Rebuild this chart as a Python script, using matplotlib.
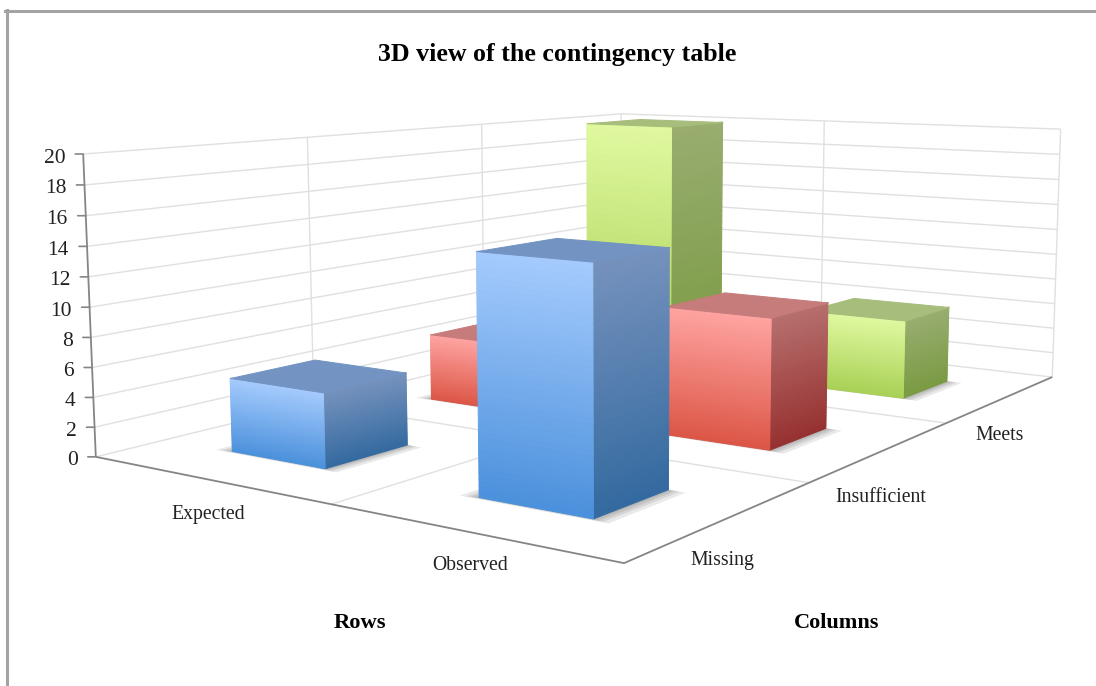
"""3D view of the contingency table."""

import matplotlib
matplotlib.use("Agg")
import matplotlib.pyplot as plt
import numpy as np
from matplotlib.lines import Line2D
from matplotlib.colors import to_rgb
from mpl_toolkits.mplot3d import proj3d
from mpl_toolkits.mplot3d.art3d import Poly3DCollection

rows = ["Expected", "Observed"]
columns = ["Missing", "Insufficient", "Meets"]
expected = [5, 5, 20]
observed = [15, 9, 6]
z_ticks = [0, 2, 4, 6, 8, 10, 12, 14, 16, 18, 20]

# colours: front top, front bottom, side top, side bottom, top face
palette = {
    "Missing": ("#a5cbfd", "#4a90dc", "#7592bd", "#33699f", "#7393c2"),
    "Insufficient": ("#ffa4a1", "#dc5545", "#b66f6d", "#963030", "#c57c7b"),
    "Meets": ("#e0f8a0", "#a8d155", "#98ad6f", "#7a9a42", "#a6bd7b"),
}

W, H = 1096, 686
SIDE = 1000
GRID = "#e0e0e0"
AXIS = "#858585"
BAR_X = (0.30, 0.70)
BAR_Y = (0.30, 0.69)
STRIPS = 40

plt.rcParams["font.family"] = ["Liberation Serif", "DejaVu Serif"]

fig = plt.figure(figsize=(W / 100, H / 100), dpi=100, facecolor="white")
ax = fig.add_axes([((W - SIDE) / 2 + 60.63) / W, ((H - SIDE) / 2 + 51.43) / H, SIDE / W, SIDE / H],
                  projection="3d")
ax.set_xlim(0, 2, view_margin=0)
ax.set_ylim(0, 3, view_margin=0)
ax.set_zlim(0, 20, view_margin=0)
ax.view_init(elev=8.0662, azim=-55.7359)
ax.set_box_aspect((1, 1.4595, 0.4743), zoom=1.0323)
ax.set_proj_type("persp", focal_length=0.3363)
ax.set_axis_off()
ax.computed_zorder = False
ax.patch.set_visible(False)


def line3d(xs, ys, zs, color=GRID, lw=1.0):
    ax.plot(xs, ys, zs, color=color, lw=lw, clip_on=False, zorder=1, solid_capstyle="butt")


def mix(a, b, t):
    a, b = np.array(to_rgb(a)), np.array(to_rgb(b))
    return tuple(a + (b - a) * t)


def add_polys(polys, colors, zorder, alpha=None, edge=True):
    coll = Poly3DCollection(polys, facecolors=colors, edgecolors=colors if edge else "none",
                            linewidths=0.7 if edge else 0, alpha=alpha)
    coll.set_clip_on(False)
    coll.set_zorder(zorder)
    ax.add_collection3d(coll, autolim=False)


def draw_bar(ix, iy, height, colors, zorder):
    front_top, front_bot, side_top, side_bot, top = colors
    x0, x1 = ix + BAR_X[0], ix + BAR_X[1]
    y0, y1 = iy + BAR_Y[0], iy + BAR_Y[1]
    # soft shadow on the floor
    for grow in (0.06, 0.04, 0.025, 0.012):
        add_polys([[(x0 - grow, y0 - grow * 0.25, 0), (x1 + grow, y0 - grow * 0.25, 0),
                    (x1 + grow, y1, 0), (x0 - grow, y1, 0)]], ["#555555"], zorder, alpha=0.13, edge=False)
    levels = np.linspace(0, height, STRIPS + 1)
    polys, cols = [], []
    for k in range(STRIPS):
        t = 1 - (k + 0.5) / STRIPS
        z0, z1 = levels[k], levels[k + 1]
        polys.append([(x0, y0, z0), (x1, y0, z0), (x1, y0, z1), (x0, y0, z1)])
        cols.append(mix(front_top, front_bot, t))
        polys.append([(x1, y0, z0), (x1, y1, z0), (x1, y1, z1), (x1, y0, z1)])
        cols.append(mix(side_top, side_bot, t))
    add_polys(polys, cols, zorder + 0.5)
    add_polys([[(x0, y0, height), (x1, y0, height), (x1, y1, height), (x0, y1, height)]], [top], zorder + 0.6)


# walls and floor
for z in z_ticks:
    line3d([0, 0, 2], [0, 3, 3], [z, z, z])
for y in range(1, len(columns)):
    line3d([0, 0], [y, y], [0, 20])
    line3d([0, 2], [y, y], [0, 0])
for x in range(1, len(rows)):
    line3d([x, x], [3, 3], [0, 20])
    line3d([x, x], [0, 3], [0, 0])
line3d([0, 0], [3, 3], [0, 20])
line3d([2, 2], [3, 3], [0, 20])

# axis lines and ticks
line3d([0, 0], [0, 0], [0, 20], color=AXIS, lw=1.3)
line3d([0, 2, 2], [0, 0, 3], [0, 0, 0], color=AXIS, lw=1.3)

M = ax.get_proj()
for z in z_ticks:
    xp, yp, _ = proj3d.proj_transform(0, 0, z, M)
    ax.annotate("", xy=(xp, yp), xycoords="data", xytext=(-8, 0), textcoords="offset pixels",
                annotation_clip=False, arrowprops=dict(arrowstyle="-", color=AXIS, lw=1.2, shrinkA=0, shrinkB=0))
    ax.annotate(str(z), xy=(xp, yp), xycoords="data", xytext=(-18, -4), textcoords="offset pixels",
                ha="right", va="center", fontsize=15.5, color="#222222", annotation_clip=False)

# bars, back to front
for iy in reversed(range(len(columns))):
    for ix, values in enumerate((expected, observed)):
        draw_bar(ix, iy, values[iy], palette[columns[iy]], 10 + (2 - iy) * 3 + ix)

# frame
fig.add_artist(Line2D([6.5 / W, 6.5 / W], [0, 1 - 10 / H], color="#a3a3a3", lw=2.2, transform=fig.transFigure))
fig.add_artist(Line2D([5 / W, 1], [1 - 10.5 / H, 1 - 10.5 / H], color="#a3a3a3", lw=2.2, transform=fig.transFigure))


def label(px, py, s, size=14.2, bold=False):
    fig.text(px / W, 1 - py / H, s, ha="center", va="center", fontsize=size, color="#222222" if not bold else "black",
             fontweight="bold" if bold else "normal")


label(557, 55, "3D view of the contingency table", size=18.6, bold=True)
label(360, 623, "Rows", size=16.2, bold=True)
label(837, 623, "Columns", size=16, bold=True)
for (px, py), s in zip([(208, 514), (470, 566)], rows):
    label(px, py, s)
for (px, py), s in zip([(722, 560), (881, 497), (1000, 435)], columns):
    label(px, py, s)

fig.savefig("out.png", dpi=100)
